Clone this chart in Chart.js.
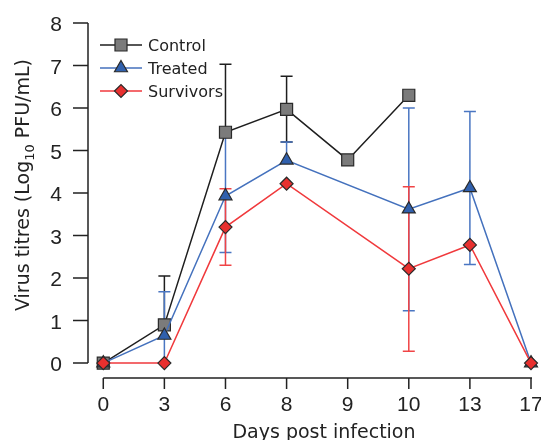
<!DOCTYPE html>
<html>
<head>
<meta charset="utf-8">
<script src="https://cdn.jsdelivr.net/npm/chart.js@4"></script>
<style>
  body { margin: 0; background: #fff; }
  #wrap { width: 541px; height: 440px; }
</style>
</head>
<body>
<div id="wrap"><canvas id="grafica"></canvas></div>
<script>
// dias post infeccion (eje categorico, espaciado igual)
const dias = ['0', '3', '6', '8', '9', '10', '13', '17'];
const yTicks = [0, 1, 2, 3, 4, 5, 6, 7, 8];

const control   = [0, 0.9, 5.43, 5.97, 4.78, 6.3, null, null];
const treated   = [0, 0.65, 3.93, 4.77, null, 3.62, 4.12, 0];
const survivors = [0, 0, 3.2, 4.22, null, 2.22, 2.78, 0];

// limites de las barras de error (null = sin barra)
const controlHi   = [null, 2.05, 7.03, 6.75, null, null, null, null];
const controlLo   = [null, null, null, 5.2, null, null, null, null];
const treatedHi   = [null, 1.68, 5.43, 5.2, null, 6.0, 5.92, null];
const treatedLo   = [null, 0, 2.6, null, null, 1.23, 2.32, null];
const survivorsHi = [null, null, 4.1, null, null, 4.15, null, null];
const survivorsLo = [null, null, 2.3, null, null, 0.28, null, null];

const FONT_NUM = '"Liberation Sans", Arial, sans-serif';
const FONT_TXT = '"DejaVu Sans", sans-serif';
const colores = {
  control:   { line: '#1e1e1e', fill: '#7b7b7b', err: '#1e1e1e' },
  treated:   { line: '#4471bd', fill: '#3060ad', err: '#4a76c2' },
  survivors: { line: '#f0393c', fill: '#e8302f', err: '#f04446' }
};

const toXY = arr => arr.map((v, i) => ({ x: i, y: v }));

const barras = [
  { hi: controlHi, lo: controlLo, mid: control, color: colores.control.err },
  { hi: treatedHi, lo: treatedLo, mid: treated, color: colores.treated.err },
  { hi: survivorsHi, lo: survivorsLo, mid: survivors, color: colores.survivors.err }
];

const extras = {
  id: 'extras',
  beforeDatasetsDraw(chart) {
    const ctx = chart.ctx, x = chart.scales.x, y = chart.scales.y;
    const left = chart.chartArea.left, by = chart.chartArea.bottom;
    ctx.save();
    // ejes separados
    ctx.strokeStyle = '#222';
    ctx.lineWidth = 1.5;
    ctx.beginPath();
    ctx.moveTo(left, y.getPixelForValue(8));
    ctx.lineTo(left, y.getPixelForValue(0));
    yTicks.forEach(t => {
      const py = y.getPixelForValue(t);
      ctx.moveTo(left - 15, py);
      ctx.lineTo(left, py);
    });
    ctx.moveTo(x.getPixelForValue(0), by);
    ctx.lineTo(x.getPixelForValue(dias.length - 1) + 1, by);
    dias.forEach((d, i) => {
      const px = x.getPixelForValue(i);
      ctx.moveTo(px, by);
      ctx.lineTo(px, by + 11);
    });
    ctx.stroke();

    // etiquetas de los ejes
    ctx.fillStyle = '#222';
    ctx.font = '21px ' + FONT_NUM;
    ctx.textBaseline = 'alphabetic';
    ctx.textAlign = 'right';
    yTicks.forEach(t => ctx.fillText(String(t), 62, y.getPixelForValue(t) + 8));
    ctx.textAlign = 'center';
    dias.forEach((d, i) => ctx.fillText(d, x.getPixelForValue(i), 411));

    // barras de error
    barras.forEach(b => {
      ctx.strokeStyle = b.color;
      ctx.lineWidth = 1.5;
      ctx.beginPath();
      dias.forEach((d, i) => {
        if (b.mid[i] === null) return;
        const px = x.getPixelForValue(i);
        const pc = y.getPixelForValue(b.mid[i]);
        [b.hi[i], b.lo[i]].forEach(v => {
          if (v === null) return;
          const pv = y.getPixelForValue(v);
          ctx.moveTo(px, pc); ctx.lineTo(px, pv);
          ctx.moveTo(px - 6, pv); ctx.lineTo(px + 6, pv);
        });
      });
      ctx.stroke();
    });
    ctx.restore();
  },
  afterDraw(chart) {
    const ctx = chart.ctx;
    ctx.save();
    ctx.fillStyle = '#222';
    // titulo eje x
    ctx.font = '19px ' + FONT_TXT;
    ctx.textAlign = 'center';
    ctx.textBaseline = 'alphabetic';
    ctx.fillText('Days post infection', 324, 438);

    // titulo eje y con subindice
    ctx.translate(29, 185);
    ctx.rotate(-Math.PI / 2);
    const partes = [['Virus titres (Log', 19, 0], ['10', 13, 5], [' PFU/mL)', 19, 0]];
    let total = 0;
    partes.forEach(p => { ctx.font = p[1] + 'px ' + FONT_TXT; total += ctx.measureText(p[0]).width; });
    let px = -total / 2;
    ctx.textAlign = 'left';
    partes.forEach(p => {
      ctx.font = p[1] + 'px ' + FONT_TXT;
      ctx.fillText(p[0], px, p[2]);
      px += ctx.measureText(p[0]).width;
    });
    ctx.restore();

    // leyenda
    const items = [
      { t: 'Control', c: colores.control, s: 'rect', r: 8.5, y: 45 },
      { t: 'Treated', c: colores.treated, s: 'triangle', r: 7.5, y: 68 },
      { t: 'Survivors', c: colores.survivors, s: 'rectRot', r: 6.5, y: 91 }
    ];
    ctx.save();
    items.forEach(it => {
      ctx.strokeStyle = it.c.line;
      ctx.lineWidth = 1.5;
      ctx.beginPath();
      ctx.moveTo(100, it.y); ctx.lineTo(142, it.y);
      ctx.stroke();
      ctx.fillStyle = it.c.fill;
      ctx.strokeStyle = '#2a2a2a';
      ctx.lineWidth = 1.2;
      Chart.helpers.drawPoint(ctx, { pointStyle: it.s, radius: it.r, borderWidth: 1.2, rotation: 0 }, 121, it.y);
      ctx.fillStyle = '#222';
      ctx.font = '16px ' + FONT_TXT;
      ctx.textAlign = 'left';
      ctx.textBaseline = 'alphabetic';
      ctx.fillText(it.t, 148, it.y + 6);
    });
    ctx.restore();
  }
};

const serie = (label, data, c, estilo, radio, orden) => ({
  label: label,
  data: toXY(data),
  borderColor: c.line,
  borderWidth: 1.5,
  pointStyle: estilo,
  pointRadius: radio,
  pointHoverRadius: radio,
  pointBackgroundColor: c.fill,
  pointBorderColor: '#2a2a2a',
  pointBorderWidth: 1.2,
  spanGaps: true,
  tension: 0,
  clip: false,
  order: orden
});

new Chart(document.getElementById('grafica'), {
  type: 'line',
  data: {
    datasets: [
      serie('Control', control, colores.control, 'rect', 8.5, 3),
      serie('Treated', treated, colores.treated, 'triangle', 7.5, 2),
      serie('Survivors', survivors, colores.survivors, 'rectRot', 6.5, 1)
    ]
  },
  options: {
    responsive: true,
    maintainAspectRatio: false,
    devicePixelRatio: 1,
    animation: false,
    layout: { padding: { top: 23, right: 10, left: 0, bottom: 0 } },
    plugins: { legend: { display: false }, tooltip: { enabled: false } },
    scales: {
      x: {
        type: 'linear',
        min: -0.25,
        max: dias.length - 1,
        afterBuildTicks: s => { s.ticks = dias.map((d, i) => ({ value: i })); },
        afterFit: s => { s.height = 62; },
        grid: { display: false },
        border: { display: false },
        ticks: { display: false }
      },
      y: {
        min: -0.35,
        max: 8,
        afterBuildTicks: s => { s.ticks = yTicks.map(v => ({ value: v })); },
        afterFit: s => { s.width = 88; },
        grid: { display: false },
        border: { display: false },
        ticks: { display: false }
      }
    }
  },
  plugins: [extras]
});
</script>
</body>
</html>
